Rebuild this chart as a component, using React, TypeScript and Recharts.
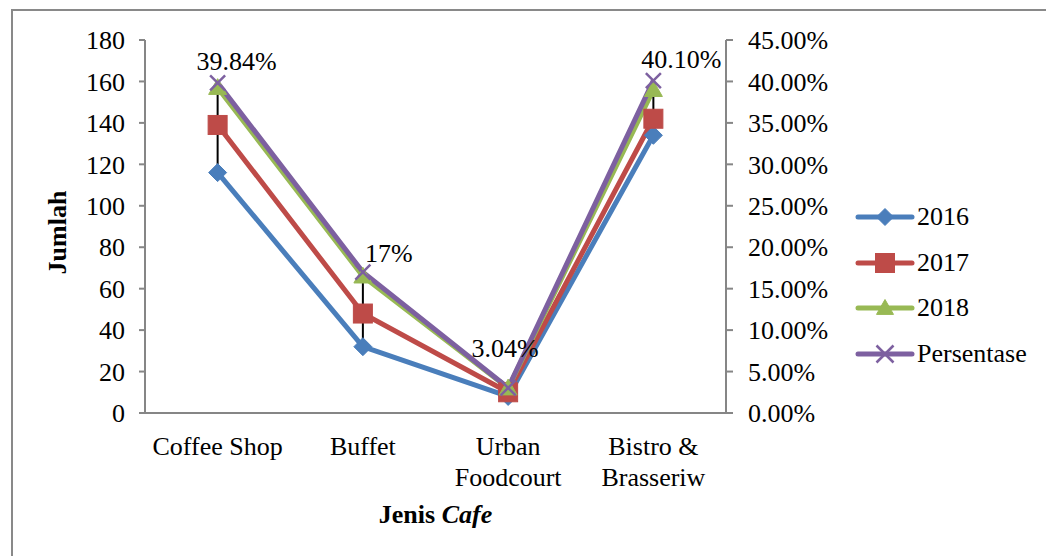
import React from "react";
import {
  ComposedChart,
  Line,
  XAxis,
  YAxis,
  ErrorBar,
  LabelList,
} from "recharts";

const categories = ["Coffee Shop", "Buffet", "Urban Foodcourt", "Bistro & Brasseriw"];
const categoryLines = [["Coffee Shop"], ["Buffet"], ["Urban", "Foodcourt"], ["Bistro &", "Brasseriw"]];
const y2016 = [116, 32, 8, 134];
const y2017 = [139, 48, 10, 142];
const y2018 = [157, 66, 12, 156];
const persentase = [39.84, 17, 3.04, 40.1];
const persentaseLabels = ["39.84%", "17%", "3.04%", "40.10%"];
const leftTicks = [0, 20, 40, 60, 80, 100, 120, 140, 160, 180];
const rightTicks = [0, 5, 10, 15, 20, 25, 30, 35, 40, 45];

// ratio between the two axes (180 on left == 45% on right)
const AXIS_RATIO = 180 / 45;

const data = categories.map((name, i) => {
  const low = Math.min(y2016[i], y2017[i], y2018[i]) / AXIS_RATIO;
  return {
    name,
    y2016: y2016[i],
    y2017: y2017[i],
    y2018: y2018[i],
    pct: persentase[i],
    pctLabel: persentaseLabels[i],
    hl: [persentase[i] - low, 0],
  };
});

const FONT = "Liberation Serif";
const FS = 26;
const AXIS_COLOR = "#868686";
const C2016 = "#4A7EBB";
const C2017 = "#BE4B48";
const C2018 = "#98B954";
const CPCT = "#7D60A0";

const labelDx = [19, 26, -3, 28];
const labelDy = [-13, -10, -31, -13];

const Diamond = ({ cx, cy, s = 9 }: any) =>
  cx == null ? null : (
    <path d={`M${cx},${cy - s}L${cx + s},${cy}L${cx},${cy + s}L${cx - s},${cy}Z`} fill={C2016} stroke={C2016} strokeWidth={1} />
  );
const Square = ({ cx, cy, s = 9.5 }: any) =>
  cx == null ? null : <rect x={cx - s} y={cy - s} width={2 * s} height={2 * s} fill={C2017} stroke={C2017} strokeWidth={1} />;
const Triangle = ({ cx, cy, s = 9 }: any) =>
  cx == null ? null : (
    <path d={`M${cx},${cy - s}L${cx + s},${cy + s * 0.75}L${cx - s},${cy + s * 0.75}Z`} fill={C2018} stroke={C2018} strokeWidth={1} />
  );
const Cross = ({ cx, cy, s = 7.5 }: any) =>
  cx == null ? null : (
    <g stroke={CPCT} strokeWidth={2.5}>
      <line x1={cx - s} y1={cy - s} x2={cx + s} y2={cy + s} />
      <line x1={cx - s} y1={cy + s} x2={cx + s} y2={cy - s} />
    </g>
  );

const XTick = (props: any) => {
  const { x, y, payload, index } = props;
  const i = typeof index === "number" ? index : categories.indexOf(payload.value);
  const lines = categoryLines[i] || [payload.value];
  return (
    <text x={x} y={y + 34} textAnchor="middle" fontFamily={FONT} fontSize={FS} fill="#000">
      {lines.map((l, k) => (
        <tspan key={k} x={x} dy={k === 0 ? 0 : 31}>
          {l}
        </tspan>
      ))}
    </text>
  );
};

const PctLabel = (props: any) => {
  const { x, y, index, value } = props;
  return (
    <text
      x={x + labelDx[index]}
      y={y + labelDy[index]}
      textAnchor="middle"
      fontFamily={FONT}
      fontSize={FS}
      fill="#000"
    >
      {value}
    </text>
  );
};

const legendItems = [
  { label: "2016", color: C2016, Marker: Diamond },
  { label: "2017", color: C2017, Marker: Square },
  { label: "2018", color: C2018, Marker: Triangle },
  { label: "Persentase", color: CPCT, Marker: Cross },
];

const LegendBox = () => (
  <div style={{ position: "absolute", left: 855, top: 194, fontFamily: FONT, fontSize: FS, color: "#000" }}>
    {legendItems.map(({ label, color, Marker }) => (
      <div key={label} style={{ display: "flex", alignItems: "center", height: 45.7 }}>
        <svg width={62} height={24} style={{ display: "block" }}>
          <line x1={3} y1={12} x2={57} y2={12} stroke={color} strokeWidth={5} strokeLinecap="round" />
          <Marker cx={30} cy={12} s={label === "2017" ? 9.5 : 8.5} />
        </svg>
        <span style={{ lineHeight: "26px", fontFamily: FONT }}>{label}</span>
      </div>
    ))}
  </div>
);

export default function App() {
  return (
    <div style={{ position: "relative", width: 1046, height: 556, overflow: "hidden", fontFamily: FONT }}>
      <style>{"body{margin:0;overflow:hidden;background:#fff}"}</style>
      <div
        style={{
          position: "absolute",
          left: 11,
          top: 9,
          width: 1050,
          height: 570,
          border: "2px solid #898989",
          boxSizing: "border-box",
        }}
      />
      <div style={{ position: "absolute", left: 0, top: 0 }}>
        <ComposedChart
          width={1046}
          height={556}
          data={data}
          margin={{ top: 40, right: 220, bottom: 83, left: 85 }}
        >
          <XAxis
            dataKey="name"
            scale="band"
            tick={<XTick />}
            tickLine={false}
            axisLine={{ stroke: AXIS_COLOR, strokeWidth: 2 }}
            height={60}
            interval={0}
            label={{
              content: (p: any) => {
                const vb = p.viewBox || {};
                return (
                  <text
                    x={vb.x + vb.width / 2}
                    y={vb.y + vb.height + 50}
                    textAnchor="middle"
                    fontFamily={FONT}
                    fontSize={FS}
                    fontWeight="bold"
                    fill="#000"
                  >
                    Jenis <tspan fontStyle="italic">Cafe</tspan>
                  </text>
                );
              },
            }}
          />
          <YAxis
            yAxisId="left"
            orientation="left"
            domain={[0, 180]}
            ticks={leftTicks}
            interval={0}
            width={60}
            tickSize={6}
            tickMargin={14}
            tickLine={{ stroke: AXIS_COLOR, strokeWidth: 2 }}
            axisLine={{ stroke: AXIS_COLOR, strokeWidth: 2 }}
            tick={{ fontFamily: FONT, fontSize: FS, fill: "#000" }}
            label={{
              content: (p: any) => {
                const vb = p.viewBox || {};
                const cx = vb.x - 28;
                const cy = vb.y + vb.height / 2 + 6;
                return (
                  <text
                    x={cx}
                    y={cy}
                    transform={`rotate(-90 ${cx} ${cy})`}
                    textAnchor="middle"
                    dominantBaseline="central"
                    fontFamily={FONT}
                    fontSize={FS}
                    fontWeight="bold"
                    fill="#000"
                  >
                    Jumlah
                  </text>
                );
              },
            }}
          />
          <YAxis
            yAxisId="right"
            orientation="right"
            domain={[0, 45]}
            ticks={rightTicks}
            interval={0}
            width={100}
            tickSize={7}
            tickMargin={15}
            tickLine={{ stroke: AXIS_COLOR, strokeWidth: 2 }}
            axisLine={{ stroke: AXIS_COLOR, strokeWidth: 2 }}
            tick={{ fontFamily: FONT, fontSize: FS, fill: "#000" }}
            tickFormatter={(v: number) => v.toFixed(2) + "%"}
          />
          <Line
            yAxisId="left"
            dataKey="y2016"
            stroke={C2016}
            strokeWidth={5}
            strokeLinejoin="round"
            dot={<Diamond />}
            activeDot={false}
            isAnimationActive={false}
          />
          <Line
            yAxisId="left"
            dataKey="y2017"
            stroke={C2017}
            strokeWidth={5}
            strokeLinejoin="round"
            dot={<Square />}
            activeDot={false}
            isAnimationActive={false}
          />
          <Line
            yAxisId="left"
            dataKey="y2018"
            stroke={C2018}
            strokeWidth={5}
            strokeLinejoin="round"
            dot={<Triangle />}
            activeDot={false}
            isAnimationActive={false}
          />
          <Line
            yAxisId="right"
            dataKey="pct"
            stroke={CPCT}
            strokeWidth={5}
            strokeLinejoin="round"
            dot={<Cross />}
            activeDot={false}
            isAnimationActive={false}
          >
            <ErrorBar dataKey="hl" width={0} stroke="#000" strokeWidth={2} direction="y" />
            <LabelList dataKey="pctLabel" content={<PctLabel />} />
          </Line>
        </ComposedChart>
      </div>
      <LegendBox />
    </div>
  );
}
